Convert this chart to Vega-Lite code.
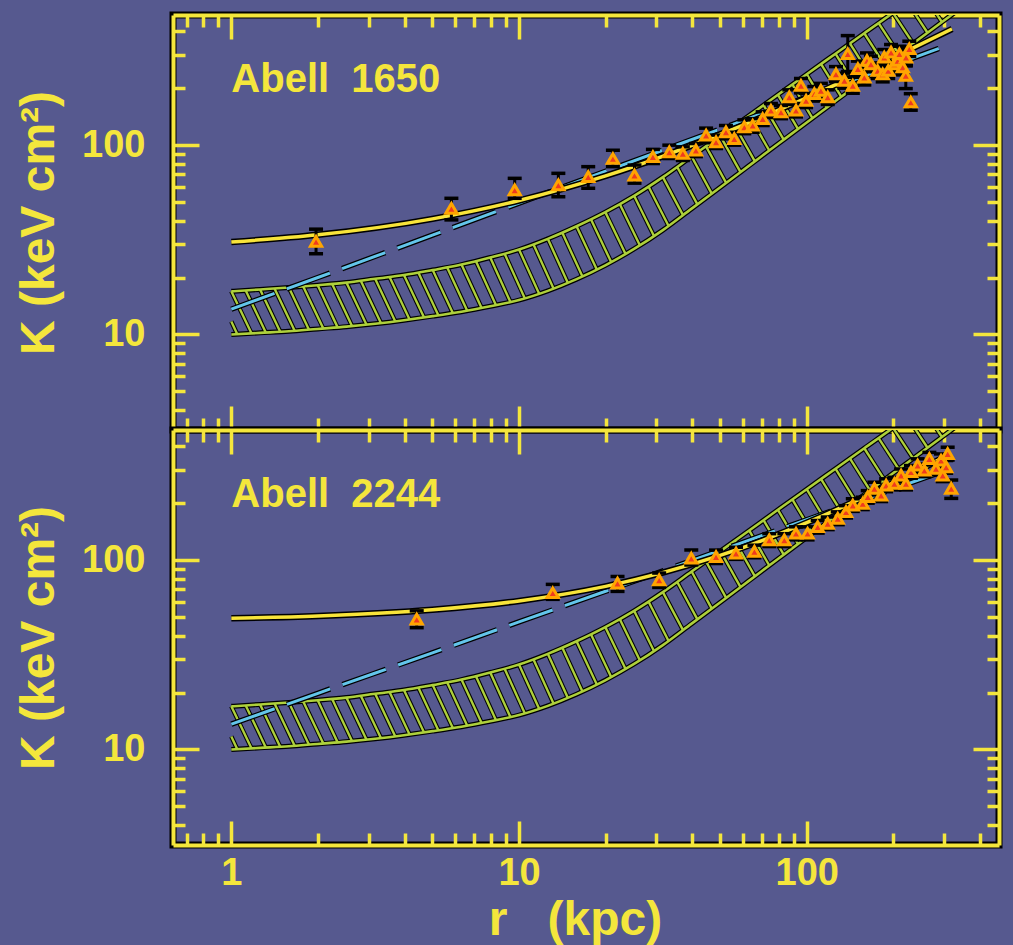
{
  "$schema": "https://vega.github.io/schema/vega-lite/v6.json",
  "background": "#56598f",
  "padding": {"left": 12, "top": 8, "right": 10, "bottom": 0},
  "spacing": 0,
  "bounds": "flush",
  "config": {
    "view": {"stroke": "#000000", "strokeWidth": 7},
    "axis": {
      "domainColor": "#f4e63c", "domainWidth": 4, "tickColor": "#f4e63c", "tickWidth": 3.5,
      "labelColor": "#f4e63c", "labelFont": "Liberation Sans", "labelFontSize": 38, "labelFontWeight": "bold",
      "titleColor": "#f4e63c", "titleFont": "Liberation Sans", "titleFontSize": 48, "titleFontWeight": "bold",
      "grid": false, "labelOverlap": false, "labelFlush": false, "labelBound": false, "zindex": 1
    }
  },
  "datasets": {
    "band": [
      {"r": 1, "lo": 10.0, "hi": 16.9}, {"r": 1.259, "lo": 10.2, "hi": 17.3}, {"r": 1.585, "lo": 10.4, "hi": 17.7},
      {"r": 1.995, "lo": 10.7, "hi": 18.2}, {"r": 2.512, "lo": 11.0, "hi": 18.8}, {"r": 3.162, "lo": 11.4, "hi": 19.7},
      {"r": 3.981, "lo": 11.9, "hi": 20.6}, {"r": 5.012, "lo": 12.5, "hi": 21.9}, {"r": 6.31, "lo": 13.2, "hi": 23.4},
      {"r": 7.943, "lo": 14.1, "hi": 25.5}, {"r": 10, "lo": 15.2, "hi": 28.1}, {"r": 12.59, "lo": 17.0, "hi": 32.0},
      {"r": 15.85, "lo": 19.6, "hi": 37.3}, {"r": 19.95, "lo": 23.2, "hi": 44.3}, {"r": 25.12, "lo": 28.3, "hi": 54.0},
      {"r": 31.62, "lo": 35.6, "hi": 67.8}, {"r": 39.81, "lo": 46.2, "hi": 87.1}, {"r": 50.12, "lo": 60.0, "hi": 111.7},
      {"r": 63.1, "lo": 78.0, "hi": 143.5}, {"r": 79.43, "lo": 101.4, "hi": 184.5}, {"r": 100, "lo": 131.8, "hi": 237.1},
      {"r": 125.9, "lo": 171.0, "hi": 304.1}, {"r": 158.5, "lo": 221.8, "hi": 390.0}, {"r": 199.5, "lo": 287.7, "hi": 500.0},
      {"r": 251.2, "lo": 372.4, "hi": 647.0}, {"r": 316.2, "lo": 483.1, "hi": 839.0}, {"r": 398.1, "lo": 625.0, "hi": 1086.0}
    ],
    "hatch": [
      {"r1": 1.0, "k1": 11.7, "r2": 1.047, "k2": 10.1},
      {"r1": 1.0, "k1": 16.9, "r2": 1.175, "k2": 10.14}, {"r1": 1.122, "k1": 17.08, "r2": 1.318, "k2": 10.25},
      {"r1": 1.259, "k1": 17.3, "r2": 1.479, "k2": 10.35}, {"r1": 1.413, "k1": 17.48, "r2": 1.66, "k2": 10.47},
      {"r1": 1.585, "k1": 17.7, "r2": 1.862, "k2": 10.6}, {"r1": 1.778, "k1": 17.95, "r2": 2.089, "k2": 10.74},
      {"r1": 1.995, "k1": 18.26, "r2": 2.344, "k2": 10.87}, {"r1": 2.239, "k1": 18.54, "r2": 2.63, "k2": 11.05},
      {"r1": 2.512, "k1": 18.84, "r2": 2.951, "k2": 11.26}, {"r1": 2.818, "k1": 19.23, "r2": 3.311, "k2": 11.49},
      {"r1": 3.162, "k1": 19.7, "r2": 3.715, "k2": 11.71}, {"r1": 3.548, "k1": 20.14, "r2": 4.169, "k2": 11.98},
      {"r1": 3.981, "k1": 20.61, "r2": 4.677, "k2": 12.29}, {"r1": 4.467, "k1": 21.26, "r2": 5.248, "k2": 12.61},
      {"r1": 5.012, "k1": 21.93, "r2": 5.888, "k2": 12.97}, {"r1": 5.623, "k1": 22.68, "r2": 6.607, "k2": 13.35},
      {"r1": 6.31, "k1": 23.44, "r2": 7.413, "k2": 13.8}, {"r1": 7.079, "k1": 24.43, "r2": 8.318, "k2": 14.29},
      {"r1": 7.943, "k1": 25.5, "r2": 9.333, "k2": 14.85}, {"r1": 8.913, "k1": 26.7, "r2": 10.47, "k2": 15.55},
      {"r1": 10.0, "k1": 28.1, "r2": 11.75, "k2": 16.4}, {"r1": 11.22, "k1": 30.0, "r2": 13.18, "k2": 17.5},
      {"r1": 12.59, "k1": 32.0, "r2": 14.79, "k2": 18.7}, {"r1": 14.13, "k1": 34.6, "r2": 16.6, "k2": 20.3},
      {"r1": 15.85, "k1": 37.3, "r2": 18.62, "k2": 22.1}, {"r1": 17.78, "k1": 40.6, "r2": 20.89, "k2": 24.2},
      {"r1": 19.95, "k1": 44.3, "r2": 23.44, "k2": 26.7}, {"r1": 22.39, "k1": 48.9, "r2": 26.3, "k2": 29.6},
      {"r1": 25.12, "k1": 54.0, "r2": 29.51, "k2": 32.9}, {"r1": 28.18, "k1": 60.5, "r2": 33.11, "k2": 37.4},
      {"r1": 31.62, "k1": 67.8, "r2": 37.15, "k2": 42.68}, {"r1": 35.48, "k1": 76.65, "r2": 41.69, "k2": 48.68},
      {"r1": 39.81, "k1": 87.1, "r2": 46.77, "k2": 55.44}, {"r1": 44.67, "k1": 98.51, "r2": 52.48, "k2": 63.22},
      {"r1": 50.12, "k1": 111.7, "r2": 58.88, "k2": 72.07}, {"r1": 56.23, "k1": 126.6, "r2": 66.07, "k2": 82.18},
      {"r1": 63.1, "k1": 143.5, "r2": 74.13, "k2": 93.71}, {"r1": 70.79, "k1": 162.7, "r2": 83.18, "k2": 106.9},
      {"r1": 79.43, "k1": 184.5, "r2": 93.33, "k2": 121.7}, {"r1": 89.13, "k1": 209.2, "r2": 104.7, "k2": 138.8},
      {"r1": 100.0, "k1": 237.1, "r2": 117.5, "k2": 158.1}, {"r1": 112.2, "k1": 268.3, "r2": 131.8, "k2": 180.3},
      {"r1": 125.9, "k1": 304.1, "r2": 147.9, "k2": 205.3}, {"r1": 141.3, "k1": 344.8, "r2": 166.0, "k2": 233.6},
      {"r1": 158.5, "k1": 390.0, "r2": 186.2, "k2": 266.0}, {"r1": 177.8, "k1": 441.1, "r2": 208.9, "k2": 302.9},
      {"r1": 199.5, "k1": 500.0, "r2": 234.4, "k2": 344.6}, {"r1": 223.9, "k1": 568.9, "r2": 263.0, "k2": 392.5},
      {"r1": 251.2, "k1": 647.1, "r2": 295.1, "k2": 447.2}
    ],
    "cyanA": [
      {"r": 1, "K": 13.6}, {"r": 2, "K": 20.0}, {"r": 5, "K": 33.5}, {"r": 10, "K": 49.4}, {"r": 20, "K": 72.8},
      {"r": 50, "K": 121.6}, {"r": 100, "K": 179.3}, {"r": 200, "K": 264.2}, {"r": 305, "K": 334.7}
    ],
    "cyanB": [
      {"r": 1, "K": 13.6}, {"r": 2, "K": 19.8}, {"r": 5, "K": 32.4}, {"r": 10, "K": 47.2}, {"r": 20, "K": 68.5},
      {"r": 50, "K": 112.5}, {"r": 100, "K": 163.5}, {"r": 200, "K": 237.6}, {"r": 300, "K": 295.9}
    ],
    "yelA": [
      {"r": 1, "K": 30.8}, {"r": 2, "K": 33.6}, {"r": 5, "K": 40.8}, {"r": 10, "K": 51.0}, {"r": 20, "K": 68.8},
      {"r": 50, "K": 114.0}, {"r": 100, "K": 178.0}, {"r": 200, "K": 290.0}, {"r": 320, "K": 411.0}
    ],
    "yelB": [
      {"r": 1, "K": 49.3}, {"r": 2, "K": 50.7}, {"r": 5, "K": 54.7}, {"r": 10, "K": 60.9}, {"r": 20, "K": 72.7},
      {"r": 50, "K": 105.9}, {"r": 100, "K": 157.7}, {"r": 200, "K": 256.0}, {"r": 310, "K": 359.0}
    ],
    "ptsA": [
      {"r": 1.97, "K": 31.0, "lo": 26.7, "hi": 36.0}, {"r": 5.82, "K": 46.4, "lo": 40.3, "hi": 52.4},
      {"r": 9.66, "K": 58.0, "lo": 52.4, "hi": 66.8}, {"r": 13.7, "K": 61.7, "lo": 53.4, "hi": 71.0},
      {"r": 17.4, "K": 68.2, "lo": 59.2, "hi": 77.0}, {"r": 21.2, "K": 85.0, "lo": 77.0, "hi": 94.0},
      {"r": 25.2, "K": 69.5, "lo": 63.0, "hi": 78.5}, {"r": 29.2, "K": 86.9, "lo": 80.0, "hi": 95.0},
      {"r": 33.3, "K": 92.2, "lo": 85.0, "hi": 100.0}, {"r": 37.1, "K": 90.4, "lo": 83.0, "hi": 98.0},
      {"r": 41.2, "K": 94.1, "lo": 87.0, "hi": 102.0}, {"r": 44.7, "K": 113.0, "lo": 103.0, "hi": 123.0},
      {"r": 48.4, "K": 104.0, "lo": 96.0, "hi": 113.0}, {"r": 52.4, "K": 117.6, "lo": 108.0, "hi": 127.0},
      {"r": 56.0, "K": 108.4, "lo": 100.0, "hi": 117.0}, {"r": 60.7, "K": 125.0, "lo": 115.0, "hi": 136.0},
      {"r": 64.9, "K": 127.4, "lo": 117.0, "hi": 138.0}, {"r": 70.3, "K": 138.2, "lo": 127.0, "hi": 150.0},
      {"r": 75.1, "K": 152.9, "lo": 140.0, "hi": 166.0}, {"r": 81.4, "K": 149.9, "lo": 138.0, "hi": 162.0},
      {"r": 87.0, "K": 179.9, "lo": 164.0, "hi": 196.0}, {"r": 91.8, "K": 152.9, "lo": 141.0, "hi": 166.0},
      {"r": 95.5, "K": 206.9, "lo": 189.0, "hi": 225.0}, {"r": 99.5, "K": 172.6, "lo": 158.0, "hi": 188.0},
      {"r": 106.3, "K": 187.0, "lo": 171.0, "hi": 204.0}, {"r": 112.0, "K": 194.7, "lo": 178.0, "hi": 212.0},
      {"r": 118.3, "K": 179.9, "lo": 164.0, "hi": 196.0}, {"r": 126.4, "K": 238.0, "lo": 217.0, "hi": 260.0},
      {"r": 135.2, "K": 219.8, "lo": 200.0, "hi": 240.0}, {"r": 138.9, "K": 304.0, "lo": 245.0, "hi": 379.0},
      {"r": 144.6, "K": 207.0, "lo": 188.0, "hi": 228.0}, {"r": 150.6, "K": 253.5, "lo": 230.0, "hi": 278.0},
      {"r": 158.6, "K": 229.0, "lo": 208.0, "hi": 251.0}, {"r": 162.0, "K": 280.0, "lo": 254.0, "hi": 307.0},
      {"r": 167.2, "K": 269.0, "lo": 244.0, "hi": 295.0}, {"r": 176.4, "K": 248.0, "lo": 225.0, "hi": 272.0},
      {"r": 183.7, "K": 238.0, "lo": 216.0, "hi": 261.0}, {"r": 186.0, "K": 291.6, "lo": 265.0, "hi": 320.0},
      {"r": 192.0, "K": 248.0, "lo": 225.0, "hi": 272.0}, {"r": 196.4, "K": 310.0, "lo": 282.0, "hi": 340.0},
      {"r": 201.7, "K": 269.0, "lo": 244.0, "hi": 295.0}, {"r": 207.0, "K": 280.0, "lo": 254.0, "hi": 307.0},
      {"r": 210.0, "K": 304.0, "lo": 276.0, "hi": 333.0}, {"r": 215.6, "K": 258.8, "lo": 235.0, "hi": 284.0},
      {"r": 221.4, "K": 291.6, "lo": 265.0, "hi": 320.0}, {"r": 227.3, "K": 323.0, "lo": 294.0, "hi": 354.0},
      {"r": 221.0, "K": 233.6, "lo": 199.0, "hi": 262.0}, {"r": 230.0, "K": 169.0, "lo": 153.0, "hi": 187.0}
    ],
    "ptsB": [
      {"r": 4.41, "K": 48.8, "lo": 44.0, "hi": 54.0}, {"r": 13.1, "K": 67.3, "lo": 62.1, "hi": 74.5},
      {"r": 22.0, "K": 75.7, "lo": 68.4, "hi": 82.0}, {"r": 30.7, "K": 78.7, "lo": 71.8, "hi": 85.5},
      {"r": 39.7, "K": 102.5, "lo": 94.4, "hi": 113.0}, {"r": 48.4, "K": 104.5, "lo": 96.0, "hi": 113.0},
      {"r": 56.8, "K": 108.9, "lo": 101.0, "hi": 117.0}, {"r": 65.8, "K": 111.2, "lo": 103.0, "hi": 120.0},
      {"r": 74.1, "K": 127.9, "lo": 118.0, "hi": 138.0}, {"r": 83.6, "K": 127.9, "lo": 118.0, "hi": 138.0},
      {"r": 91.8, "K": 138.7, "lo": 128.0, "hi": 150.0}, {"r": 100.7, "K": 138.7, "lo": 128.0, "hi": 150.0},
      {"r": 109.2, "K": 150.3, "lo": 139.0, "hi": 162.0}, {"r": 118.3, "K": 156.6, "lo": 145.0, "hi": 169.0},
      {"r": 128.2, "K": 166.4, "lo": 154.0, "hi": 180.0}, {"r": 137.0, "K": 180.3, "lo": 167.0, "hi": 194.0},
      {"r": 144.6, "K": 195.4, "lo": 181.0, "hi": 211.0}, {"r": 156.6, "K": 199.5, "lo": 185.0, "hi": 215.0},
      {"r": 163.0, "K": 216.4, "lo": 200.0, "hi": 233.0}, {"r": 171.9, "K": 239.3, "lo": 221.0, "hi": 258.0},
      {"r": 181.4, "K": 220.8, "lo": 204.0, "hi": 238.0}, {"r": 188.8, "K": 249.0, "lo": 230.0, "hi": 269.0},
      {"r": 201.7, "K": 254.0, "lo": 235.0, "hi": 274.0}, {"r": 212.8, "K": 281.0, "lo": 260.0, "hi": 303.0},
      {"r": 221.4, "K": 254.0, "lo": 235.0, "hi": 274.0}, {"r": 230.3, "K": 293.0, "lo": 271.0, "hi": 316.0},
      {"r": 243.0, "K": 318.0, "lo": 294.0, "hi": 343.0}, {"r": 256.4, "K": 298.5, "lo": 276.0, "hi": 322.0},
      {"r": 266.9, "K": 344.0, "lo": 318.0, "hi": 371.0}, {"r": 281.4, "K": 305.0, "lo": 282.0, "hi": 329.0},
      {"r": 293.0, "K": 337.0, "lo": 312.0, "hi": 364.0}, {"r": 297.0, "K": 281.0, "lo": 260.0, "hi": 303.0},
      {"r": 305.3, "K": 311.0, "lo": 288.0, "hi": 336.0}, {"r": 309.0, "K": 365.6, "lo": 338.0, "hi": 395.0},
      {"r": 318.0, "K": 239.3, "lo": 212.0, "hi": 265.0}
    ]
  },
  "vconcat": [
    {
      "width": 826, "height": 415,
      "resolve": {"axis": {"x": "independent", "y": "independent"}},
      "layer": [
        {"data": {"name": "band"}, "mark": {"type": "line", "color": "#000000", "strokeWidth": 5, "interpolate": "monotone", "clip": true},
         "encoding": {
           "x": {"field": "r", "type": "quantitative", "scale": {"type": "log", "domain": [0.627, 466], "nice": false},
                 "axis": {"orient": "bottom", "values": [0.7,0.8,0.9,1,2,3,4,5,6,7,8,9,10,20,30,40,50,60,70,80,90,100,200,300,400], "tickSize": {"condition": {"test": "datum.value==1||datum.value==10||datum.value==100", "value": -24}, "value": -12}, "labels": false, "title": null}},
           "y": {"field": "lo", "type": "quantitative", "scale": {"type": "log", "domain": [3.13, 487], "nice": false},
                 "axis": {"orient": "left", "values": [4,5,6,7,8,9,10,20,30,40,50,60,70,80,90,100,200,300,400], "tickSize": {"condition": {"test": "datum.value==10||datum.value==100", "value": -26}, "value": -12}, "labelExpr": "datum.value==10 ? '10' : datum.value==100 ? '100' : ''", "labelPadding": 54, "title": "K\u00a0(keV cm²)", "titlePadding": 18}}
         }},
        {"data": {"name": "band"}, "mark": {"type": "line", "color": "#000000", "strokeWidth": 5, "interpolate": "monotone", "clip": true},
         "encoding": {
           "x": {"field": "r", "type": "quantitative", "scale": {"type": "log", "domain": [0.627, 466], "nice": false},
                 "axis": {"orient": "top", "values": [0.7,0.8,0.9,1,2,3,4,5,6,7,8,9,10,20,30,40,50,60,70,80,90,100,200,300,400], "tickSize": {"condition": {"test": "datum.value==1||datum.value==10||datum.value==100", "value": -24}, "value": -12}, "labels": false, "title": null}},
           "y": {"field": "hi", "type": "quantitative", "scale": {"type": "log", "domain": [3.13, 487], "nice": false},
                 "axis": {"orient": "right", "values": [4,5,6,7,8,9,10,20,30,40,50,60,70,80,90,100,200,300,400], "tickSize": {"condition": {"test": "datum.value==10||datum.value==100", "value": -26}, "value": -12}, "labels": false, "title": null}}
         }},
        {"data": {"name": "hatch"}, "mark": {"type": "rule", "color": "#000000", "strokeWidth": 4.5, "clip": true},
         "encoding": {"x": {"field": "r1", "type": "quantitative", "scale": {"type": "log", "domain": [0.627, 466], "nice": false}, "axis": null}, "x2": {"field": "r2"},
                      "y": {"field": "k1", "type": "quantitative", "scale": {"type": "log", "domain": [3.13, 487], "nice": false}, "axis": null}, "y2": {"field": "k2"}}},
        {"data": {"name": "hatch"}, "mark": {"type": "rule", "color": "#aed03c", "strokeWidth": 2.4, "clip": true},
         "encoding": {"x": {"field": "r1", "type": "quantitative", "scale": {"type": "log", "domain": [0.627, 466], "nice": false}, "axis": null}, "x2": {"field": "r2"},
                      "y": {"field": "k1", "type": "quantitative", "scale": {"type": "log", "domain": [3.13, 487], "nice": false}, "axis": null}, "y2": {"field": "k2"}}},
        {"data": {"name": "band"}, "mark": {"type": "line", "color": "#aed03c", "strokeWidth": 2.6, "interpolate": "monotone", "clip": true},
         "encoding": {"x": {"field": "r", "type": "quantitative", "scale": {"type": "log", "domain": [0.627, 466], "nice": false}, "axis": null},
                      "y": {"field": "lo", "type": "quantitative", "scale": {"type": "log", "domain": [3.13, 487], "nice": false}, "axis": null}}},
        {"data": {"name": "band"}, "mark": {"type": "line", "color": "#aed03c", "strokeWidth": 2.6, "interpolate": "monotone", "clip": true},
         "encoding": {"x": {"field": "r", "type": "quantitative", "scale": {"type": "log", "domain": [0.627, 466], "nice": false}, "axis": null},
                      "y": {"field": "hi", "type": "quantitative", "scale": {"type": "log", "domain": [3.13, 487], "nice": false}, "axis": null}}},
        {"data": {"name": "cyanA"}, "mark": {"type": "line", "color": "#000000", "strokeWidth": 5.5, "strokeDash": [46, 13], "interpolate": "monotone", "clip": true},
         "encoding": {"x": {"field": "r", "type": "quantitative", "scale": {"type": "log", "domain": [0.627, 466], "nice": false}, "axis": null},
                      "y": {"field": "K", "type": "quantitative", "scale": {"type": "log", "domain": [3.13, 487], "nice": false}, "axis": null}}},
        {"data": {"name": "cyanA"}, "mark": {"type": "line", "color": "#63c5ea", "strokeWidth": 3, "strokeDash": [46, 13], "interpolate": "monotone", "clip": true},
         "encoding": {"x": {"field": "r", "type": "quantitative", "scale": {"type": "log", "domain": [0.627, 466], "nice": false}, "axis": null},
                      "y": {"field": "K", "type": "quantitative", "scale": {"type": "log", "domain": [3.13, 487], "nice": false}, "axis": null}}},
        {"data": {"name": "yelA"}, "mark": {"type": "line", "color": "#000000", "strokeWidth": 6.5, "interpolate": "monotone", "clip": true},
         "encoding": {"x": {"field": "r", "type": "quantitative", "scale": {"type": "log", "domain": [0.627, 466], "nice": false}, "axis": null},
                      "y": {"field": "K", "type": "quantitative", "scale": {"type": "log", "domain": [3.13, 487], "nice": false}, "axis": null}}},
        {"data": {"name": "yelA"}, "mark": {"type": "line", "color": "#f8e43a", "strokeWidth": 3.5, "interpolate": "monotone", "clip": true},
         "encoding": {"x": {"field": "r", "type": "quantitative", "scale": {"type": "log", "domain": [0.627, 466], "nice": false}, "axis": null},
                      "y": {"field": "K", "type": "quantitative", "scale": {"type": "log", "domain": [3.13, 487], "nice": false}, "axis": null}}},
        {"data": {"name": "ptsA"}, "mark": {"type": "rule", "color": "#000000", "strokeWidth": 3, "clip": true},
         "encoding": {"x": {"field": "r", "type": "quantitative", "scale": {"type": "log", "domain": [0.627, 466], "nice": false}, "axis": null},
                      "y": {"field": "lo", "type": "quantitative", "scale": {"type": "log", "domain": [3.13, 487], "nice": false}, "axis": null}, "y2": {"field": "hi"}}},
        {"data": {"name": "ptsA"}, "mark": {"type": "tick", "orient": "horizontal", "color": "#000000", "size": 14, "thickness": 3.5, "opacity": 1, "clip": true},
         "encoding": {"x": {"field": "r", "type": "quantitative", "scale": {"type": "log", "domain": [0.627, 466], "nice": false}, "axis": null},
                      "y": {"field": "lo", "type": "quantitative", "scale": {"type": "log", "domain": [3.13, 487], "nice": false}, "axis": null}}},
        {"data": {"name": "ptsA"}, "mark": {"type": "tick", "orient": "horizontal", "color": "#000000", "size": 14, "thickness": 3.5, "opacity": 1, "clip": true},
         "encoding": {"x": {"field": "r", "type": "quantitative", "scale": {"type": "log", "domain": [0.627, 466], "nice": false}, "axis": null},
                      "y": {"field": "hi", "type": "quantitative", "scale": {"type": "log", "domain": [3.13, 487], "nice": false}, "axis": null}}},
        {"data": {"name": "ptsA"}, "mark": {"type": "point", "shape": "triangle-up", "filled": true, "fill": "#ef3b1f", "stroke": "#ffa500", "strokeWidth": 3, "size": 125, "opacity": 1, "clip": true},
         "encoding": {"x": {"field": "r", "type": "quantitative", "scale": {"type": "log", "domain": [0.627, 466], "nice": false}, "axis": null},
                      "y": {"field": "K", "type": "quantitative", "scale": {"type": "log", "domain": [3.13, 487], "nice": false}, "axis": null}}},
        {"data": {"values": [{"r": 1, "K": 190, "name": "Abell\u00a0\u00a01650"}]},
         "mark": {"type": "text", "align": "left", "baseline": "alphabetic", "font": "Liberation Sans", "fontSize": 40, "fontWeight": "bold", "color": "#f4e63c"},
         "encoding": {"x": {"field": "r", "type": "quantitative", "scale": {"type": "log", "domain": [0.627, 466], "nice": false}, "axis": null},
                      "y": {"field": "K", "type": "quantitative", "scale": {"type": "log", "domain": [3.13, 487], "nice": false}, "axis": null},
                      "text": {"field": "name"}}}
      ]
    },
    {
      "width": 826, "height": 415,
      "resolve": {"axis": {"x": "independent", "y": "independent"}},
      "layer": [
        {"data": {"name": "band"}, "mark": {"type": "line", "color": "#000000", "strokeWidth": 5, "interpolate": "monotone", "clip": true},
         "encoding": {
           "x": {"field": "r", "type": "quantitative", "scale": {"type": "log", "domain": [0.627, 466], "nice": false},
                 "axis": {"orient": "bottom", "values": [0.7,0.8,0.9,1,2,3,4,5,6,7,8,9,10,20,30,40,50,60,70,80,90,100,200,300,400], "tickSize": {"condition": {"test": "datum.value==1||datum.value==10||datum.value==100", "value": -24}, "value": -12}, "labelExpr": "datum.value==1 ? '1' : datum.value==10 ? '10' : datum.value==100 ? '100' : ''", "labelPadding": 33, "title": "r\u00a0\u00a0\u00a0(kpc)", "titleX": 402, "titleY": 89, "titleAlign": "center", "titleBaseline": "alphabetic"}},
           "y": {"field": "lo", "type": "quantitative", "scale": {"type": "log", "domain": [3.13, 487], "nice": false},
                 "axis": {"orient": "left", "values": [4,5,6,7,8,9,10,20,30,40,50,60,70,80,90,100,200,300,400], "tickSize": {"condition": {"test": "datum.value==10||datum.value==100", "value": -26}, "value": -12}, "labelExpr": "datum.value==10 ? '10' : datum.value==100 ? '100' : ''", "labelPadding": 54, "title": "K\u00a0(keV cm²)", "titlePadding": 18}}
         }},
        {"data": {"name": "band"}, "mark": {"type": "line", "color": "#000000", "strokeWidth": 5, "interpolate": "monotone", "clip": true},
         "encoding": {
           "x": {"field": "r", "type": "quantitative", "scale": {"type": "log", "domain": [0.627, 466], "nice": false},
                 "axis": {"orient": "top", "values": [0.7,0.8,0.9,1,2,3,4,5,6,7,8,9,10,20,30,40,50,60,70,80,90,100,200,300,400], "tickSize": {"condition": {"test": "datum.value==1||datum.value==10||datum.value==100", "value": -24}, "value": -12}, "labels": false, "title": null}},
           "y": {"field": "hi", "type": "quantitative", "scale": {"type": "log", "domain": [3.13, 487], "nice": false},
                 "axis": {"orient": "right", "values": [4,5,6,7,8,9,10,20,30,40,50,60,70,80,90,100,200,300,400], "tickSize": {"condition": {"test": "datum.value==10||datum.value==100", "value": -26}, "value": -12}, "labels": false, "title": null}}
         }},
        {"data": {"name": "hatch"}, "mark": {"type": "rule", "color": "#000000", "strokeWidth": 4.5, "clip": true},
         "encoding": {"x": {"field": "r1", "type": "quantitative", "scale": {"type": "log", "domain": [0.627, 466], "nice": false}, "axis": null}, "x2": {"field": "r2"},
                      "y": {"field": "k1", "type": "quantitative", "scale": {"type": "log", "domain": [3.13, 487], "nice": false}, "axis": null}, "y2": {"field": "k2"}}},
        {"data": {"name": "hatch"}, "mark": {"type": "rule", "color": "#aed03c", "strokeWidth": 2.4, "clip": true},
         "encoding": {"x": {"field": "r1", "type": "quantitative", "scale": {"type": "log", "domain": [0.627, 466], "nice": false}, "axis": null}, "x2": {"field": "r2"},
                      "y": {"field": "k1", "type": "quantitative", "scale": {"type": "log", "domain": [3.13, 487], "nice": false}, "axis": null}, "y2": {"field": "k2"}}},
        {"data": {"name": "band"}, "mark": {"type": "line", "color": "#aed03c", "strokeWidth": 2.6, "interpolate": "monotone", "clip": true},
         "encoding": {"x": {"field": "r", "type": "quantitative", "scale": {"type": "log", "domain": [0.627, 466], "nice": false}, "axis": null},
                      "y": {"field": "lo", "type": "quantitative", "scale": {"type": "log", "domain": [3.13, 487], "nice": false}, "axis": null}}},
        {"data": {"name": "band"}, "mark": {"type": "line", "color": "#aed03c", "strokeWidth": 2.6, "interpolate": "monotone", "clip": true},
         "encoding": {"x": {"field": "r", "type": "quantitative", "scale": {"type": "log", "domain": [0.627, 466], "nice": false}, "axis": null},
                      "y": {"field": "hi", "type": "quantitative", "scale": {"type": "log", "domain": [3.13, 487], "nice": false}, "axis": null}}},
        {"data": {"name": "cyanB"}, "mark": {"type": "line", "color": "#000000", "strokeWidth": 5.5, "strokeDash": [46, 13], "interpolate": "monotone", "clip": true},
         "encoding": {"x": {"field": "r", "type": "quantitative", "scale": {"type": "log", "domain": [0.627, 466], "nice": false}, "axis": null},
                      "y": {"field": "K", "type": "quantitative", "scale": {"type": "log", "domain": [3.13, 487], "nice": false}, "axis": null}}},
        {"data": {"name": "cyanB"}, "mark": {"type": "line", "color": "#63c5ea", "strokeWidth": 3, "strokeDash": [46, 13], "interpolate": "monotone", "clip": true},
         "encoding": {"x": {"field": "r", "type": "quantitative", "scale": {"type": "log", "domain": [0.627, 466], "nice": false}, "axis": null},
                      "y": {"field": "K", "type": "quantitative", "scale": {"type": "log", "domain": [3.13, 487], "nice": false}, "axis": null}}},
        {"data": {"name": "yelB"}, "mark": {"type": "line", "color": "#000000", "strokeWidth": 6.5, "interpolate": "monotone", "clip": true},
         "encoding": {"x": {"field": "r", "type": "quantitative", "scale": {"type": "log", "domain": [0.627, 466], "nice": false}, "axis": null},
                      "y": {"field": "K", "type": "quantitative", "scale": {"type": "log", "domain": [3.13, 487], "nice": false}, "axis": null}}},
        {"data": {"name": "yelB"}, "mark": {"type": "line", "color": "#f8e43a", "strokeWidth": 3.5, "interpolate": "monotone", "clip": true},
         "encoding": {"x": {"field": "r", "type": "quantitative", "scale": {"type": "log", "domain": [0.627, 466], "nice": false}, "axis": null},
                      "y": {"field": "K", "type": "quantitative", "scale": {"type": "log", "domain": [3.13, 487], "nice": false}, "axis": null}}},
        {"data": {"name": "ptsB"}, "mark": {"type": "rule", "color": "#000000", "strokeWidth": 3, "clip": true},
         "encoding": {"x": {"field": "r", "type": "quantitative", "scale": {"type": "log", "domain": [0.627, 466], "nice": false}, "axis": null},
                      "y": {"field": "lo", "type": "quantitative", "scale": {"type": "log", "domain": [3.13, 487], "nice": false}, "axis": null}, "y2": {"field": "hi"}}},
        {"data": {"name": "ptsB"}, "mark": {"type": "tick", "orient": "horizontal", "color": "#000000", "size": 14, "thickness": 3.5, "opacity": 1, "clip": true},
         "encoding": {"x": {"field": "r", "type": "quantitative", "scale": {"type": "log", "domain": [0.627, 466], "nice": false}, "axis": null},
                      "y": {"field": "lo", "type": "quantitative", "scale": {"type": "log", "domain": [3.13, 487], "nice": false}, "axis": null}}},
        {"data": {"name": "ptsB"}, "mark": {"type": "tick", "orient": "horizontal", "color": "#000000", "size": 14, "thickness": 3.5, "opacity": 1, "clip": true},
         "encoding": {"x": {"field": "r", "type": "quantitative", "scale": {"type": "log", "domain": [0.627, 466], "nice": false}, "axis": null},
                      "y": {"field": "hi", "type": "quantitative", "scale": {"type": "log", "domain": [3.13, 487], "nice": false}, "axis": null}}},
        {"data": {"name": "ptsB"}, "mark": {"type": "point", "shape": "triangle-up", "filled": true, "fill": "#ef3b1f", "stroke": "#ffa500", "strokeWidth": 3, "size": 125, "opacity": 1, "clip": true},
         "encoding": {"x": {"field": "r", "type": "quantitative", "scale": {"type": "log", "domain": [0.627, 466], "nice": false}, "axis": null},
                      "y": {"field": "K", "type": "quantitative", "scale": {"type": "log", "domain": [3.13, 487], "nice": false}, "axis": null}}},
        {"data": {"values": [{"r": 1, "K": 190, "name": "Abell\u00a0\u00a02244"}]},
         "mark": {"type": "text", "align": "left", "baseline": "alphabetic", "font": "Liberation Sans", "fontSize": 40, "fontWeight": "bold", "color": "#f4e63c"},
         "encoding": {"x": {"field": "r", "type": "quantitative", "scale": {"type": "log", "domain": [0.627, 466], "nice": false}, "axis": null},
                      "y": {"field": "K", "type": "quantitative", "scale": {"type": "log", "domain": [3.13, 487], "nice": false}, "axis": null},
                      "text": {"field": "name"}}}
      ]
    }
  ]
}
